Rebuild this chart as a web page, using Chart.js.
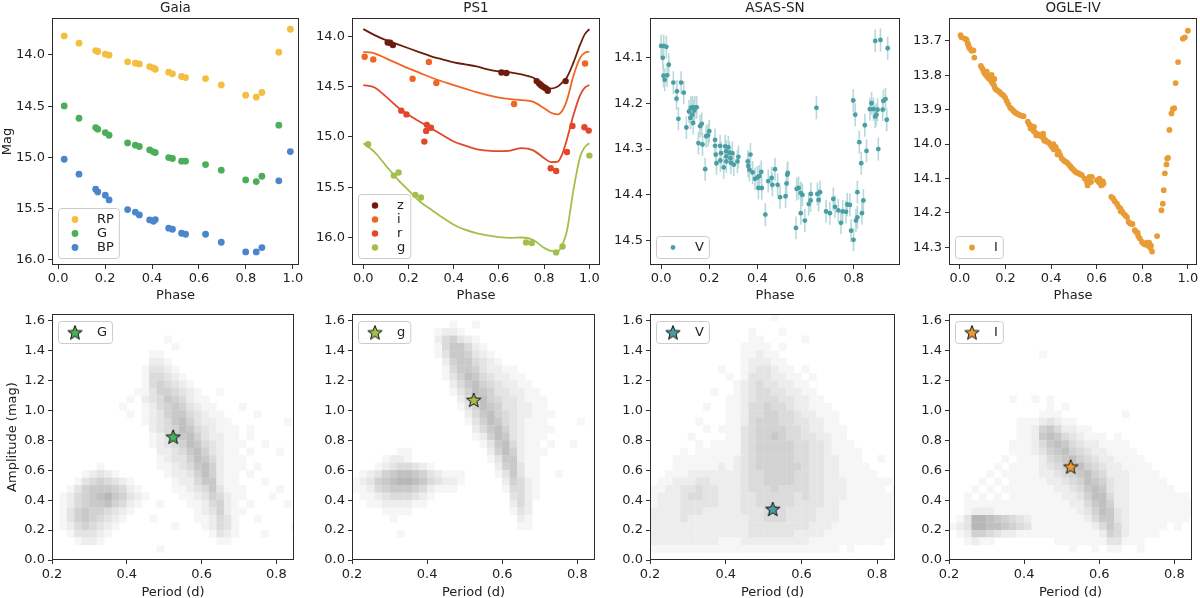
<!DOCTYPE html>
<html>
<head>
<meta charset="utf-8">
<script src="https://cdn.jsdelivr.net/npm/chart.js@4.4.0/dist/chart.umd.min.js"></script>
<style>
  html, body { margin: 0; padding: 0; background: #fff; }
  body { width: 1200px; height: 598px; position: relative; overflow: hidden; }
</style>
</head>
<body>
<script>
// ---------- light curves (top row) ----------
const gaiaPhase = [0.026, 0.089, 0.160, 0.169, 0.201, 0.217, 0.296, 0.329, 0.346, 0.390, 0.406, 0.414,
  0.471, 0.487, 0.526, 0.543, 0.628, 0.695, 0.799, 0.844, 0.868, 0.940, 0.989];
const gaiaRP = [13.815, 13.886, 13.958, 13.967, 13.993, 14.003, 14.068, 14.081, 14.088, 14.114, 14.127, 14.140,
  14.169, 14.185, 14.211, 14.221, 14.231, 14.293, 14.393, 14.413, 14.367, 13.974, 13.750];
const gaiaG = [14.498, 14.618, 14.709, 14.725, 14.758, 14.784, 14.859, 14.881, 14.894, 14.927, 14.946, 14.953,
  15.002, 15.011, 15.037, 15.037, 15.070, 15.125, 15.220, 15.236, 15.184, 14.686, null];
const gaiaBP = [15.018, 15.164, 15.311, 15.337, 15.369, 15.415, 15.509, 15.535, 15.561, 15.610, 15.623, 15.607,
  15.691, 15.701, 15.740, 15.750, 15.750, 15.828, 15.922, 15.922, 15.880, 15.229, 14.943];

const ps1zPhase = [0.108, 0.119, 0.131, 0.611, 0.633, 0.767, 0.778, 0.785, 0.792, 0.800, 0.807, 0.816, 0.895];
const ps1zMag = [14.063, 14.066, 14.089, 14.360, 14.366, 14.446, 14.469, 14.485, 14.498, 14.508, 14.518, 14.541, 14.446];
const ps1iPhase = [0.006, 0.044, 0.218, 0.290, 0.323, 0.667, 0.981];
const ps1iMag = [14.205, 14.231, 14.422, 14.257, 14.465, 14.673, 14.271];
const ps1rPhase = [0.168, 0.191, 0.270, 0.278, 0.281, 0.299, 0.829, 0.853, 0.901, 0.925, 0.978, 0.997];
const ps1rMag = [14.739, 14.776, 15.046, 14.940, 14.880, 14.908, 15.310, 15.337, 15.149, 14.891, 14.904, 14.937];
const ps1gPhase = [0.021, 0.135, 0.156, 0.230, 0.255, 0.720, 0.745, 0.853, 0.881, 1.000];
const ps1gMag = [15.073, 15.383, 15.353, 15.574, 15.600, 16.046, 16.053, 16.145, 16.086, 15.185];

// template fits
const ps1CurvePhase = [0, 0.05, 0.1, 0.15, 0.2, 0.25, 0.3, 0.35, 0.4, 0.45, 0.5, 0.55, 0.6, 0.65, 0.7,
  0.75, 0.8, 0.83, 0.86, 0.88, 0.9, 0.93, 0.96, 0.98, 1.0];
const ps1zCurve = [13.93, 13.99, 14.04, 14.08, 14.12, 14.16, 14.20, 14.23, 14.26, 14.28, 14.30, 14.33, 14.35, 14.36, 14.38,
  14.41, 14.485, 14.52, 14.50, 14.46, 14.41, 14.26, 14.08, 13.98, 13.93];
const ps1iCurve = [14.155, 14.17, 14.22, 14.27, 14.32, 14.365, 14.41, 14.45, 14.485, 14.52, 14.555, 14.585, 14.61, 14.625, 14.635,
  14.65, 14.715, 14.76, 14.775, 14.74, 14.64, 14.39, 14.21, 14.165, 14.155];
const ps1rCurve = [14.485, 14.51, 14.60, 14.70, 14.78, 14.85, 14.915, 14.98, 15.045, 15.085, 15.12, 15.135, 15.14, 15.135, 15.11,
  15.13, 15.21, 15.25, 15.245, 15.17, 15.03, 14.78, 14.58, 14.51, 14.485];
const ps1gCurve = [15.063, 15.15, 15.284, 15.416, 15.53, 15.64, 15.72, 15.80, 15.87, 15.92, 15.955, 15.977, 15.993, 16.0, 15.997,
  16.02, 16.10, 16.13, 16.135, 16.07, 15.94, 15.52, 15.19, 15.10, 15.063];

const asasPhase = [0.000, 0.011, 0.022, 0.007, 0.010, 0.015, 0.025, 0.032, 0.051, 0.066, 0.064, 0.072, 0.083, 0.094,
  0.105, 0.116, 0.124, 0.131, 0.140, 0.148, 0.122, 0.133, 0.138, 0.130, 0.155, 0.172, 0.169, 0.162, 0.183, 0.187,
  0.195, 0.200, 0.224, 0.224, 0.227, 0.230, 0.245, 0.249, 0.246, 0.266, 0.270, 0.271, 0.271, 0.260, 0.279, 0.284,
  0.288, 0.290, 0.296, 0.302, 0.321, 0.317, 0.360, 0.362, 0.371, 0.367, 0.380, 0.390, 0.400, 0.408, 0.416, 0.404,
  0.418, 0.433, 0.445, 0.462, 0.459, 0.473, 0.484, 0.494, 0.517, 0.521, 0.524, 0.526, 0.560, 0.563, 0.571, 0.580,
  0.587, 0.580, 0.597, 0.613, 0.621, 0.622, 0.645, 0.649, 0.654, 0.660, 0.685, 0.701, 0.715, 0.722, 0.736, 0.747,
  0.754, 0.768, 0.773, 0.784, 0.789, 0.799, 0.798, 0.806, 0.809, 0.815, 0.815, 0.823, 0.831, 0.834, 0.840, 0.846,
  0.853, 0.867, 0.874, 0.882, 0.889, 0.894, 0.899, 0.902, 0.889, 0.911, 0.920, 0.923, 0.932, 0.937, 0.941];
const asasMag = [14.075, 14.075, 14.077, 14.101, 14.140, 14.149, 14.139, 14.116, 14.155, 14.174, 14.190, 14.234, 14.155, 14.177,
  14.253, 14.218, 14.210, 14.209, 14.209, 14.209, 14.232, 14.243, 14.216, 14.225, 14.287, 14.290, 14.245, 14.250, 14.344, 14.272,
  14.270, 14.261, 14.280, 14.293, 14.312, 14.331, 14.293, 14.309, 14.325, 14.294, 14.305, 14.316, 14.327, 14.340, 14.296, 14.308,
  14.320, 14.330, 14.309, 14.334, 14.317, 14.327, 14.327, 14.337, 14.312, 14.345, 14.351, 14.365, 14.362, 14.359, 14.350, 14.385,
  14.385, 14.443, 14.370, 14.378, 14.363, 14.344, 14.378, 14.405, 14.403, 14.375, 14.356, 14.352, 14.472, 14.387, 14.385, 14.396,
  14.400, 14.440, 14.456, 14.420, 14.412, 14.398, 14.210, 14.398, 14.411, 14.394, 14.436, 14.440, 14.409, 14.426, 14.434, 14.461,
  14.436, 14.437, 14.421, 14.422, 14.478, 14.498, 14.194, 14.225, 14.456, 14.449, 14.394, 14.285, 14.331, 14.440, 14.412, 14.248,
  14.304, 14.213, 14.200, 14.213, 14.229, 14.225, 14.214, 14.300, 14.064, 14.062, 14.214, 14.195, 14.191, 14.236, 14.080];
const asasErr = 0.025;

const oglePhase = [0.003, 0.007, 0.022, 0.029, 0.034, 0.037, 0.040, 0.044, 0.051, 0.059, 0.063, 0.092, 0.098, 0.103,
  0.107, 0.113, 0.118, 0.119, 0.125, 0.132, 0.135, 0.139, 0.147, 0.151, 0.142, 0.150, 0.154, 0.161, 0.169, 0.176,
  0.183, 0.191, 0.198, 0.205, 0.212, 0.220, 0.227, 0.235, 0.242, 0.249, 0.257, 0.264, 0.271, 0.279, 0.298, 0.304,
  0.310, 0.312, 0.318, 0.323, 0.325, 0.330, 0.335, 0.345, 0.352, 0.359, 0.365, 0.367, 0.370, 0.374, 0.381, 0.389,
  0.396, 0.403, 0.410, 0.411, 0.418, 0.420, 0.425, 0.428, 0.433, 0.440, 0.447, 0.455, 0.462, 0.469, 0.477, 0.484,
  0.491, 0.499, 0.506, 0.513, 0.521, 0.528, 0.535, 0.547, 0.557, 0.560, 0.565, 0.568, 0.572, 0.575, 0.579, 0.601,
  0.609, 0.612, 0.616, 0.620, 0.623, 0.627, 0.630, 0.664, 0.672, 0.679, 0.689, 0.696, 0.704, 0.705, 0.711, 0.718,
  0.726, 0.733, 0.740, 0.748, 0.757, 0.767, 0.773, 0.780, 0.782, 0.789, 0.799, 0.806, 0.814, 0.821, 0.828, 0.830,
  0.836, 0.838, 0.843, 0.865, 0.884, 0.890, 0.894, 0.899, 0.906, 0.909, 0.913, 0.919, 0.928, 0.934, 0.940, 0.946,
  0.957, 0.978, 0.987, 1.000];
const ogleMag = [13.684, 13.690, 13.694, 13.697, 13.707, 13.712, 13.719, 13.723, 13.729, 13.728, 13.749, 13.773, 13.780, 13.787,
  13.794, 13.799, 13.790, 13.804, 13.809, 13.807, 13.815, 13.799, 13.814, 13.811, 13.823, 13.830, 13.838, 13.843, 13.846, 13.850,
  13.855, 13.859, 13.865, 13.875, 13.884, 13.894, 13.898, 13.904, 13.908, 13.911, 13.914, 13.916, 13.918, 13.919, 13.935, 13.943,
  13.955, 13.947, 13.954, 13.962, 13.950, 13.966, 13.975, 13.972, 13.976, 13.979, 13.970, 13.982, 13.990, 13.988, 13.993, 13.995,
  14.001, 14.008, 14.000, 14.015, 14.013, 14.008, 14.017, 14.030, 14.022, 14.032, 14.042, 14.047, 14.051, 14.053, 14.059, 14.064,
  14.070, 14.075, 14.080, 14.083, 14.085, 14.088, 14.090, 14.100, 14.110, 14.120, 14.105, 14.095, 14.098, 14.110, 14.095, 14.105,
  14.110, 14.100, 14.115, 14.120, 14.117, 14.108, 14.115, 14.153, 14.158, 14.166, 14.173, 14.182, 14.187, 14.195, 14.195, 14.202,
  14.207, 14.212, 14.226, 14.231, 14.232, 14.250, 14.255, 14.258, 14.267, 14.274, 14.284, 14.289, 14.292, 14.286, 14.296, 14.286,
  14.302, 14.295, 14.312, 14.267, 14.192, 14.173, 14.134, 14.085, 14.059, 14.042, 14.040, 13.959, 13.911, 13.898, 13.896, 13.823,
  13.762, 13.694, 13.690, 13.671];

const lcPhaseTicks = [0, 0.2, 0.4, 0.6, 0.8, 1.0];
const asasPhaseTicks = [0, 0.2, 0.4, 0.6, 0.8];
const gaiaMagTicks = [14.0, 14.5, 15.0, 15.5, 16.0];
const asasMagTicks = [14.1, 14.2, 14.3, 14.4, 14.5];
const ogleMagTicks = [13.7, 13.8, 13.9, 14.0, 14.1, 14.2, 14.3];
const periodTicks = [0.2, 0.4, 0.6, 0.8];
const ampTicks = [0, 0.2, 0.4, 0.6, 0.8, 1.0, 1.2, 1.4, 1.6];

// ---------- Bailey diagrams (bottom row) ----------
const starPeriod = 0.524;
const starAmpG = 0.824, starAmpg = 1.07, starAmpV = 0.341, starAmpI = 0.624;

// density of the comparison sample, 0..9 per cell
// columns: period 0.20..0.86 in steps of 0.02; rows: amplitude 1.60 (top) .. 0.00 (bottom) in steps of 0.05
const cloudPeriodStart = 0.2, cloudPeriodStep = 0.02, cloudAmpStep = 0.05;
const gaiaCloud = [
  "0000000000|0000000000|0000000000|000",
  "0000000000|0000000000|0000000000|000",
  "0000000000|0000000000|0000000000|000",
  "0000000000|0000010000|0000000000|000",
  "0000000000|0000001000|0000000000|000",
  "0000000000|0001100000|0000000000|000",
  "0000000000|0002210000|0000000000|000",
  "0000000000|0013321000|0000000000|000",
  "0000000000|0014432100|0000000000|000",
  "0000000000|0014543210|0000000000|000",
  "0000000000|0113554321|0010000000|000",
  "0000000000|1023465421|1000000000|000",
  "0000000001|0012456532|1100010000|000",
  "0000000000|1012356643|2110000100|000",
  "0000000000|0012346753|2211000000|010",
  "0000000000|0002345764|3211101000|000",
  "0000000000|0001235675|3221101000|000",
  "0000000000|0001234576|4321110010|000",
  "0000000000|0000223467|5321101000|100",
  "0000000000|0000123357|6421110000|000",
  "0000001000|0000112346|7521110100|000",
  "0000123210|0000012235|7521101000|000",
  "0001345432|1000001224|6621100010|000",
  "0013566654|2100001123|4631110000|100",
  "0124567865|3210000112|3542110001|000",
  "0124566754|2100100011|2452101000|010",
  "0135655432|1000000001|2352110000|000",
  "0135654321|0001000001|1243100100|000",
  "0124543210|0000001000|1243100000|001",
  "0013332100|0000000000|0132100010|000",
  "0001221000|0000000000|0011000000|000",
  "0000000000|0000100000|0000000000|000",
  "0000000000|0000000000|0000000000|000",
];
const ps1Cloud = [
  "0000000000|0000000000|0000000000|000",
  "0000000000|0001001000|0000000000|000",
  "0000000000|0122100000|0000000000|000",
  "0000000000|0245321000|0000000000|000",
  "0000000000|0146642100|0000000000|000",
  "0000000000|0136653210|0000000000|000",
  "0000000000|0025664321|0000000000|000",
  "0000000000|0014665322|1100000000|000",
  "0000000000|0013576432|2110000000|000",
  "0000000000|0002467543|2211000000|000",
  "0000000000|0001357653|3221100000|000",
  "0000000000|0000246754|3321110000|000",
  "0000000000|0000135765|3322110000|000",
  "0000000000|0000024675|4322111000|000",
  "0000000000|0000013576|4321110000|100",
  "0000000000|0000002467|5321111000|000",
  "0000000000|0000001257|6321110000|000",
  "0000000000|0000000136|7421101001|000",
  "0000001100|0000000025|7521110000|000",
  "0000122100|0000000013|6621100000|000",
  "0001234432|1000000002|5631100000|000",
  "0123567765|3211100001|3631100100|000",
  "1235678876|4322100000|2542100000|000",
  "1124566654|2111000000|1442100000|000",
  "0112344432|1000000000|0342100000|000",
  "0011222211|0000000000|0242000000|000",
  "0000111100|0000000000|0132000000|000",
  "0000010000|0000000000|0021000000|000",
  "0000000000|0000000000|0011000000|000",
  "0000001000|0000000000|0000000000|000",
  "0000000000|0000000000|0000000000|000",
  "0000000000|0000000000|0000000000|000",
  "0000000000|0000000000|0000000000|000",
];
const asasCloud = [
  "0000000000|0000001000|0000000000|000",
  "0000000000|0000000000|0000000000|000",
  "0000000000|0001000100|0000000000|000",
  "0000000000|0001100000|1000000000|000",
  "0000000000|0011110100|0000000000|000",
  "0000000000|0011211000|0000000000|000",
  "0000000000|0012221100|0000000000|000",
  "0000000001|0012332110|1000000000|000",
  "0000000000|1013332211|0100000000|000",
  "0000000000|0123433221|1000000000|000",
  "0000000010|0123443322|1100000000|000",
  "0000000000|1123444332|2110000000|000",
  "0000000100|1124454432|2111000000|000",
  "0000000000|1124455443|2211100000|000",
  "0000001000|1124555443|3221100000|000",
  "0000000101|1134555544|3221110000|000",
  "0000010000|1134556544|3322110000|000",
  "0000001011|1134555554|4332111000|000",
  "0000101111|1134555554|4332111100|000",
  "0001111111|1234555554|4332211100|100",
  "0001111112|1234555555|4332211110|000",
  "0011122222|2234455554|4332211111|000",
  "0112223322|2234455554|4332221111|110",
  "1122334332|2234445444|4332221111|101",
  "1222344332|2233444443|4332221111|111",
  "1222333332|2233444443|3332211111|111",
  "2222333222|2233344433|3322211111|111",
  "2222322222|2223344433|3322211111|111",
  "2222222222|2223333333|3222111111|111",
  "2222222222|2223333332|2221111111|110",
  "2222222221|1122222222|2111111111|100",
  "1111111111|1111111111|1111101000|000",
  "0000000000|0000000000|0000000000|000",
];
const ogleCloud = [
  "0000000000|0000000000|0000000000|000",
  "0000000000|0000000000|0000000000|000",
  "0000000000|0000000000|0000000000|000",
  "0000000000|0000000000|0000000000|000",
  "0000000000|0000000000|0000000000|000",
  "0000000000|0010000000|0000000000|000",
  "0000000000|0000000000|0000000000|000",
  "0000000000|0000000000|0000000000|000",
  "0000000000|0000000000|0000000000|000",
  "0000000000|0000000000|0000000000|000",
  "0000000000|0000000000|0000000000|000",
  "0000000010|0101000000|0000000000|000",
  "0000000000|0001010000|0000000000|000",
  "0000000000|0011100000|0001000000|000",
  "0000000001|1123211000|0000000000|000",
  "0000000001|1256422110|0000000000|000",
  "0000000001|1267643211|1010000000|000",
  "0000000011|1246764322|1111000000|000",
  "0000000011|1235675432|2111100000|000",
  "0000000101|1124567543|2211110000|000",
  "0000001011|1123456754|3221111000|000",
  "0000010111|1122345675|4222111100|000",
  "0000101011|1112234576|5322111110|000",
  "0001010111|1111223467|6322111111|000",
  "0010101011|1111122357|7422111111|110",
  "0011111111|1111112246|7522111111|111",
  "0012221111|1111111235|7632111111|111",
  "0138876543|2111111124|6632111111|110",
  "1238877654|3111111112|4642111110|100",
  "0125543221|1111111111|2542111100|000",
  "0012110000|0000111111|1331110000|000",
  "0000000000|0000001001|0110010000|000",
  "0000000000|0000000000|0000000000|000",
];

// ---------- colours ----------
const cRP = "#f4bf40", cG = "#4cae5b", cBP = "#4a86cb";
const cz = "#6e1b0f", ci = "#f06521", cr = "#e2472b", cg = "#a3bf4b";
const cV = "#4b9fa4", cVerr = "rgba(75,159,164,0.4)", cI = "#e99b35";
const FONT = "'DejaVu Sans', sans-serif";

Chart.defaults.font.family = FONT;
Chart.defaults.font.size = 13;
Chart.defaults.color = "#222";
Chart.defaults.animation = false;

const pts = (xs, ys) => xs.map((x, i) => ({ x: x, y: ys[i] })).filter(p => p.y !== null);

function errSegments(xs, ys, e) {
  const out = [];
  xs.forEach((x, i) => {
    out.push({ x: x, y: ys[i] - e }, { x: x, y: ys[i] + e }, { x: x, y: null });
  });
  return out;
}

function cloudData(rows) {
  const out = [];
  rows.forEach((row, k) => {
    const s = row.replace(/\|/g, "");
    const r = rows.length - 1 - k;
    for (let c = 0; c < s.length; c++) {
      const d = +s[c];
      if (d) out.push({ x: cloudPeriodStart + cloudPeriodStep * (c + 0.5), y: cloudAmpStep * (r + 0.5), d: d });
    }
  });
  return out;
}

function starImg(color) {
  const s = 18, c = document.createElement("canvas");
  c.width = c.height = s;
  const g = c.getContext("2d");
  g.beginPath();
  for (let k = 0; k < 10; k++) {
    const rr = k % 2 ? 3.2 : 7.6, ang = -Math.PI / 2 + k * Math.PI / 5;
    g.lineTo(s / 2 + rr * Math.cos(ang), s / 2 + 0.6 + rr * Math.sin(ang));
  }
  g.closePath();
  g.fillStyle = color;
  g.fill();
  g.strokeStyle = "#111";
  g.lineWidth = 1;
  g.stroke();
  return c;
}

function roundBox(ctx, x, y, w, h, r) {
  ctx.beginPath();
  ctx.moveTo(x + r, y);
  ctx.lineTo(x + w - r, y);
  ctx.arcTo(x + w, y, x + w, y + r, r);
  ctx.lineTo(x + w, y + h - r);
  ctx.arcTo(x + w, y + h, x + w - r, y + h, r);
  ctx.lineTo(x + r, y + h);
  ctx.arcTo(x, y + h, x, y + h - r, r);
  ctx.lineTo(x, y + r);
  ctx.arcTo(x, y, x + r, y, r);
  ctx.closePath();
}

// frame, title and matplotlib-like legend
const deco = {
  id: "deco",
  afterDatasetsDraw(chart, args, o) {
    const { ctx, chartArea: a } = chart;
    ctx.save();
    ctx.strokeStyle = "#2b2b2b";
    ctx.lineWidth = 1;
    ctx.strokeRect(a.left + 0.5, a.top + 0.5, a.right - a.left - 1, a.bottom - a.top - 1);
    if (o.title) {
      ctx.fillStyle = "#222";
      ctx.font = "13.5px " + FONT;
      ctx.textAlign = "center";
      ctx.textBaseline = "alphabetic";
      ctx.fillText(o.title, (a.left + a.right) / 2, a.top - 6.5);
    }
    const items = o.items;
    ctx.font = "13px " + FONT;
    const tw = Math.max(...items.map(it => ctx.measureText(it.label).width));
    const bw = 44 + tw, bh = 22 + (items.length - 1) * 14;
    const bx = Math.round(a.left + 6);
    const by = Math.round(o.where === "upper" ? a.top + 6.5 : a.bottom - 7 - bh);
    roundBox(ctx, bx + 0.5, by + 0.5, bw, bh, 3);
    ctx.fillStyle = "rgba(255,255,255,0.8)";
    ctx.fill();
    ctx.strokeStyle = "#cccccc";
    ctx.stroke();
    items.forEach((it, k) => {
      const cy = by + 11.5 + k * 14;
      if (it.star) {
        ctx.drawImage(it.star, bx + 17 - it.star.width / 2, cy - it.star.height / 2);
      } else {
        ctx.beginPath();
        ctx.arc(bx + 17, cy, it.r, 0, Math.PI * 2);
        ctx.fillStyle = it.color;
        ctx.fill();
      }
      ctx.fillStyle = "#222";
      ctx.textAlign = "left";
      ctx.textBaseline = "middle";
      ctx.fillText(it.label, bx + 39, cy + 0.5);
    });
    ctx.restore();
  }
};

function axis(min, max, ticks, title, reverse, size, horizontal, pad, titlePad) {
  return {
    type: "linear",
    min: min,
    max: max,
    reverse: reverse,
    afterBuildTicks: s => { s.ticks = ticks.map(v => ({ value: v })); },
    afterFit: s => {
      if (horizontal) s.height = size; else s.width = size;
      s.paddingLeft = s.paddingRight = s.paddingTop = s.paddingBottom = 0;
    },
    grid: { display: true, drawOnChartArea: false, drawTicks: true, tickLength: 4, tickColor: "#333", color: "#333" },
    border: { display: false },
    ticks: { padding: pad, color: "#222", autoSkip: false, maxRotation: 0, callback: v => v.toFixed(1) },
    title: { display: !!title, text: title, color: "#222", padding: { top: titlePad, bottom: 0 } }
  };
}

const cols = [{ x: 52, w: 247 }, { x: 352, w: 248 }, { x: 650, w: 250 }, { x: 949, w: 248 }];
const rows = [{ y: 18, h: 247, th: 18, bh: 38 }, { y: 314, h: 246, th: 14, bh: 40 }];

function panel(ci, ri, o) {
  const c = cols[ci], r = rows[ri];
  const W = 52 + c.w + 4, H = r.th + r.h + r.bh;
  const cv = document.createElement("canvas");
  cv.width = W;
  cv.height = H;
  cv.style.cssText = "position:absolute;left:" + (c.x - 52) + "px;top:" + (r.y - r.th) + "px;width:" + W + "px;height:" + H + "px";
  document.body.appendChild(cv);
  return new Chart(cv.getContext("2d"), {
    type: "scatter",
    data: { datasets: o.datasets },
    options: {
      responsive: false,
      animation: false,
      events: [],
      layout: { padding: { top: r.th, right: 4, left: 0, bottom: 0 } },
      plugins: {
        legend: { display: false },
        tooltip: { enabled: false },
        deco: { title: o.title, items: o.items, where: o.where }
      },
      scales: {
        x: axis(o.x[0], o.x[1], o.xTicks, o.xLabel, false, r.bh, true, ri ? 3 : 2, 0),
        y: axis(o.y[0], o.y[1], o.yTicks, o.yLabel, ri === 0, 52, false, 3, ri ? 5 : 0)
      }
    },
    plugins: [deco]
  });
}

const dot = (label, data, color, r) => ({
  label: label, data: data, backgroundColor: color, borderWidth: 0, pointRadius: r, pointHoverRadius: r
});
const curve = (phase, mags, color) => ({
  data: pts(phase, mags), showLine: true, borderColor: color, borderWidth: 1.8,
  pointRadius: 0, cubicInterpolationMode: "monotone"
});
// each density cell is a flat grey square, darker where the sample is denser
const cloud = rowsData => ({
  data: cloudData(rowsData), pointStyle: "rect", pointRadius: 5.5, pointHoverRadius: 5.5, borderWidth: 0,
  backgroundColor: ctx => { const v = 255 - ctx.raw.d * 9; return "rgb(" + v + "," + v + "," + v + ")"; },
  clip: 0
});
const star = (amp, img) => ({
  data: [{ x: starPeriod, y: amp }], pointStyle: img, pointRadius: 8, pointHoverRadius: 8
});

// ---------- top row ----------
panel(0, 0, {
  title: "Gaia", xLabel: "Phase", yLabel: "Mag", where: "lower",
  x: [-0.026, 1.026], y: [13.64, 16.05], xTicks: lcPhaseTicks, yTicks: gaiaMagTicks,
  datasets: [
    dot("RP", pts(gaiaPhase, gaiaRP), cRP, 3.4),
    dot("G", pts(gaiaPhase, gaiaG), cG, 3.4),
    dot("BP", pts(gaiaPhase, gaiaBP), cBP, 3.4)
  ],
  items: [{ label: "RP", color: cRP, r: 3.4 }, { label: "G", color: cG, r: 3.4 }, { label: "BP", color: cBP, r: 3.4 }]
});

panel(1, 0, {
  title: "PS1", xLabel: "Phase", where: "lower",
  x: [-0.05, 1.047], y: [13.82, 16.27], xTicks: lcPhaseTicks, yTicks: gaiaMagTicks,
  datasets: [
    dot("z", pts(ps1zPhase, ps1zMag), cz, 3.2),
    dot("i", pts(ps1iPhase, ps1iMag), ci, 3.2),
    dot("r", pts(ps1rPhase, ps1rMag), cr, 3.2),
    dot("g", pts(ps1gPhase, ps1gMag), cg, 3.2),
    curve(ps1CurvePhase, ps1zCurve, cz),
    curve(ps1CurvePhase, ps1iCurve, ci),
    curve(ps1CurvePhase, ps1rCurve, cr),
    curve(ps1CurvePhase, ps1gCurve, cg)
  ],
  items: [{ label: "z", color: cz, r: 3.2 }, { label: "i", color: ci, r: 3.2 }, { label: "r", color: cr, r: 3.2 }, { label: "g", color: cg, r: 3.2 }]
});

panel(2, 0, {
  title: "ASAS-SN", xLabel: "Phase", where: "lower",
  x: [-0.046, 0.992], y: [14.014, 14.553], xTicks: asasPhaseTicks, yTicks: asasMagTicks,
  datasets: [
    dot("V", pts(asasPhase, asasMag), cV, 2.4),
    { data: errSegments(asasPhase, asasMag, asasErr), showLine: true, spanGaps: false, borderColor: cVerr, borderWidth: 1.6, pointRadius: 0 }
  ],
  items: [{ label: "V", color: cV, r: 2.4 }]
});

panel(3, 0, {
  title: "OGLE-IV", xLabel: "Phase", where: "lower",
  x: [-0.048, 1.04], y: [13.634, 14.351], xTicks: lcPhaseTicks, yTicks: ogleMagTicks,
  datasets: [dot("I", pts(oglePhase, ogleMag), cI, 2.9)],
  items: [{ label: "I", color: cI, r: 2.9 }]
});

// ---------- bottom row ----------
const bottom = [
  { cloud: gaiaCloud, amp: starAmpG, color: cG, label: "G", yLabel: "Amplitude (mag)" },
  { cloud: ps1Cloud, amp: starAmpg, color: cg, label: "g" },
  { cloud: asasCloud, amp: starAmpV, color: cV, label: "V" },
  { cloud: ogleCloud, amp: starAmpI, color: cI, label: "I" }
];
bottom.forEach((b, k) => {
  const img = starImg(b.color);
  panel(k, 1, {
    xLabel: "Period (d)", yLabel: b.yLabel, where: "upper",
    x: [0.2, 0.847], y: [0, 1.645], xTicks: periodTicks, yTicks: ampTicks,
    datasets: [star(b.amp, img), cloud(b.cloud)],
    items: [{ label: b.label, star: img }]
  });
});
</script>
</body>
</html>
